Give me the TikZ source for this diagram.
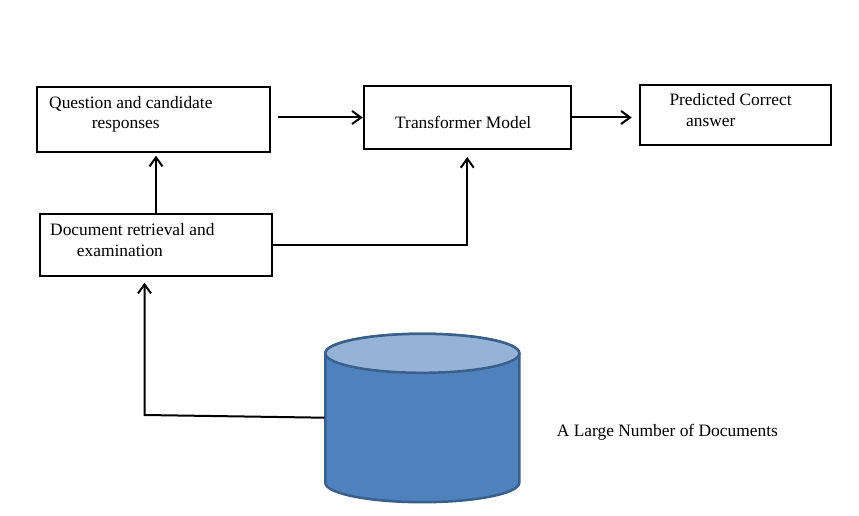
\documentclass[tikz,border=0pt]{standalone}
\usepackage{fontspec}
\setmainfont{Liberation Serif}
\usepackage{xcolor}
\usepackage{tikz}
\usetikzlibrary{arrows.meta,positioning,calc}
\definecolor{cylbody}{HTML}{4F81BD}
\definecolor{cyltop}{HTML}{95B3D7}
\definecolor{cyledge}{HTML}{3A5F8B}
\tikzset{
  blk/.style={rectangle, draw, line width=2pt, inner sep=0pt},
  lbl/.style={inner sep=0pt, anchor=base west, font=\fontsize{17.4}{21}\selectfont},
  arr/.style={-{Straight Barb[length=9pt,width=13pt]}, line width=2pt},
  cyl/.style={line width=2.5pt, draw=cyledge}
}
\begin{document}
\begin{tikzpicture}[x=1pt, y=1pt]
  \useasboundingbox (0,0) rectangle (859,515);
  \node[blk, minimum width=232.7pt, minimum height=65pt] (qa) at (153.4,395.8) {};
  \node[blk, minimum width=207pt, minimum height=63pt, right=92pt of qa, yshift=1.7pt] (tm) {};
  \node[blk, minimum width=191.3pt, minimum height=59.7pt, right=67pt of tm, yshift=2.7pt] (pc) {};
  \node[blk, minimum width=232pt, minimum height=61.4pt, below=60.6pt of qa, xshift=2.6pt] (dr) {};
  \node[lbl] (qat1) at (49,406.7) {Question and candidate};
  \node[lbl] (qat2) at (91.7,386) {responses};
  \node[lbl] (tmt) at (395,386.7) {Transformer Model};
  \node[lbl] (pct1) at (669.3,409) {Predicted Correct};
  \node[lbl] (pct2) at (686,388.3) {answer};
  \node[lbl] (drt1) at (50,279.3) {Document retrieval and};
  \node[lbl] (drt2) at (76.7,259) {examination};
  \node[lbl] (dbt) at (556.7,78.3) {A Large Number of Documents};
  \filldraw[cyl, fill=cylbody] (325.3,161.7) -- (325.3,32.3)
    arc[start angle=180, end angle=360, x radius=97, y radius=19.5] -- (519.3,161.7)
    arc[start angle=0, end angle=180, x radius=97, y radius=19.5] -- cycle;
  \filldraw[cyl, fill=cyltop] (422.3,161.7) ellipse [x radius=97, y radius=19.5];
  \coordinate (dbside) at (324.5,97.3);
  \coordinate (dbturn) at (144.5,100);
  \draw[arr] ([xshift=7pt]qa.east |- tm.west) -- (tm.west);
  \draw[arr] (tm.east) -- ([xshift=-7pt]pc.west |- tm.east);
  \draw[arr, shorten >=3pt] (dr.north) -- (dr.north |- qa.south);
  \draw[arr, shorten >=7pt] (dr.east) -| (tm.south);
  \draw[arr, shorten >=6pt] (dbside) -- (dbturn) -- (dbturn |- dr.south);
\end{tikzpicture}
\end{document}
